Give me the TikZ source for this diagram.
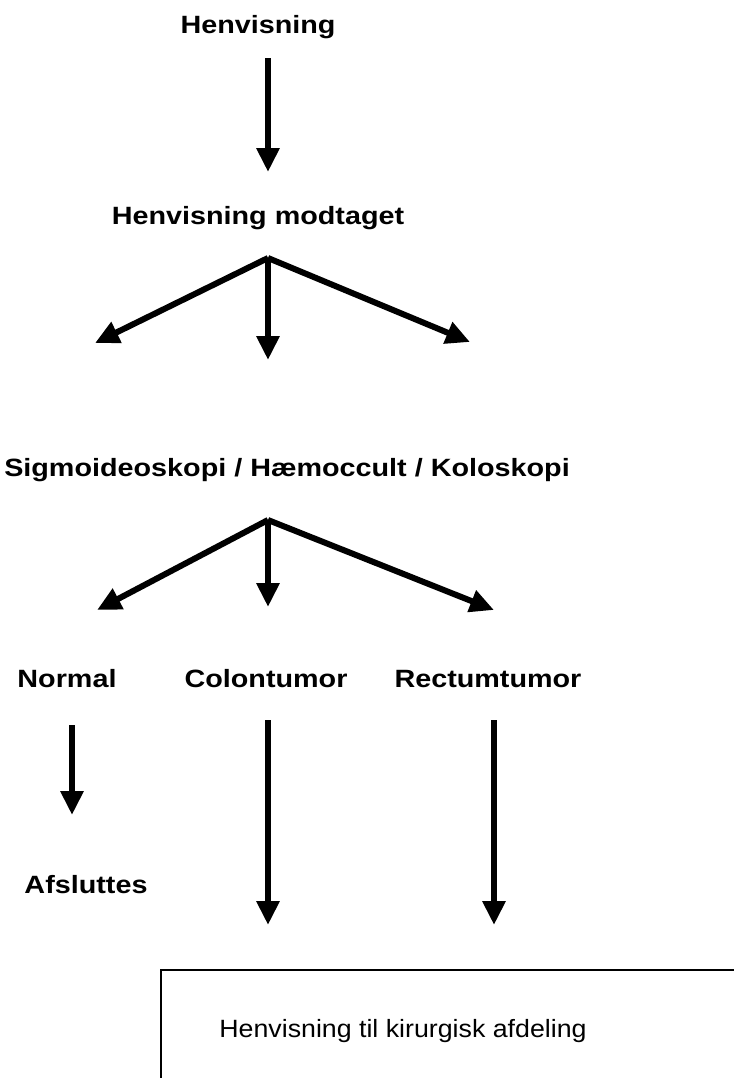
\documentclass[tikz,border=0pt]{standalone}
\usepackage{fontspec}
\setmainfont{Liberation Sans}
\newfontfamily\lblfont[FakeStretch=1.15]{Liberation Sans}
\newfontfamily\boxfont[FakeStretch=1.07]{Liberation Sans}
\usetikzlibrary{arrows.meta,positioning}

\begin{document}
\begin{tikzpicture}[x=0.5pt, y=-0.5pt,
    lbl/.style={font=\lblfont\fontsize{12.5}{15}\selectfont\bfseries, inner sep=1pt},
    arr/.style={line width=3pt, -{Triangle[length=12pt, width=11pt]}}]
    \useasboundingbox (0,0) rectangle (734,1078);

    % Texts
    \node[lbl] (henv) at (258,27) {Henvisning};
    \node[lbl] (modt) at (258,218) {Henvisning modtaget};
    \node[lbl] (sig) at (287,470) {Sigmoideoskopi / Hæmoccult / Koloskopi};
    \node[lbl] (normal) at (67,679) {Normal};
    \node[lbl] (colon) at (266,679) {Colontumor};
    \node[lbl] (rectum) at (488,679) {Rectumtumor};
    \node[lbl] (afsl) at (86,885) {Afsluttes};

    % Arrow ends
    \coordinate (a0) at (268,58);
    \coordinate (a1) at (268,172);
    \coordinate (f1) at (268,258);
    \coordinate (f1l) at (95,343);
    \coordinate (f1m) at (268,360);
    \coordinate (f1r) at (470,342);
    \coordinate (f2) at (268,520);
    \coordinate (f2l) at (97,610);
    \coordinate (f2m) at (268,607);
    \coordinate (f2r) at (494,610);
    \coordinate (n0) at (72,725);
    \coordinate (n1) at (72,815);
    \coordinate (c0) at (268,720);
    \coordinate (c1) at (268,925);
    \coordinate (r0) at (494,720);
    \coordinate (r1) at (494,925);

    % Arrows
    \draw[arr] (a0) -- (a1);
    \draw[arr] (f1) -- (f1l);
    \draw[arr] (f1) -- (f1m);
    \draw[arr] (f1) -- (f1r);
    \draw[arr] (f2) -- (f2l);
    \draw[arr] (f2) -- (f2m);
    \draw[arr] (f2) -- (f2r);
    \draw[arr] (n0) -- (n1);
    \draw[arr] (c0) -- (c1);
    \draw[arr] (r0) -- (r1);

    % Box (cut off at the page edge)
    \draw[line width=0.8pt] (161,1078) -- (161,970) -- (734,970);
    \node[font=\boxfont\fontsize{12.5}{15}\selectfont, anchor=base] (kir) at (403,1037) {Henvisning til kirurgisk afdeling};
\end{tikzpicture}
\end{document}
